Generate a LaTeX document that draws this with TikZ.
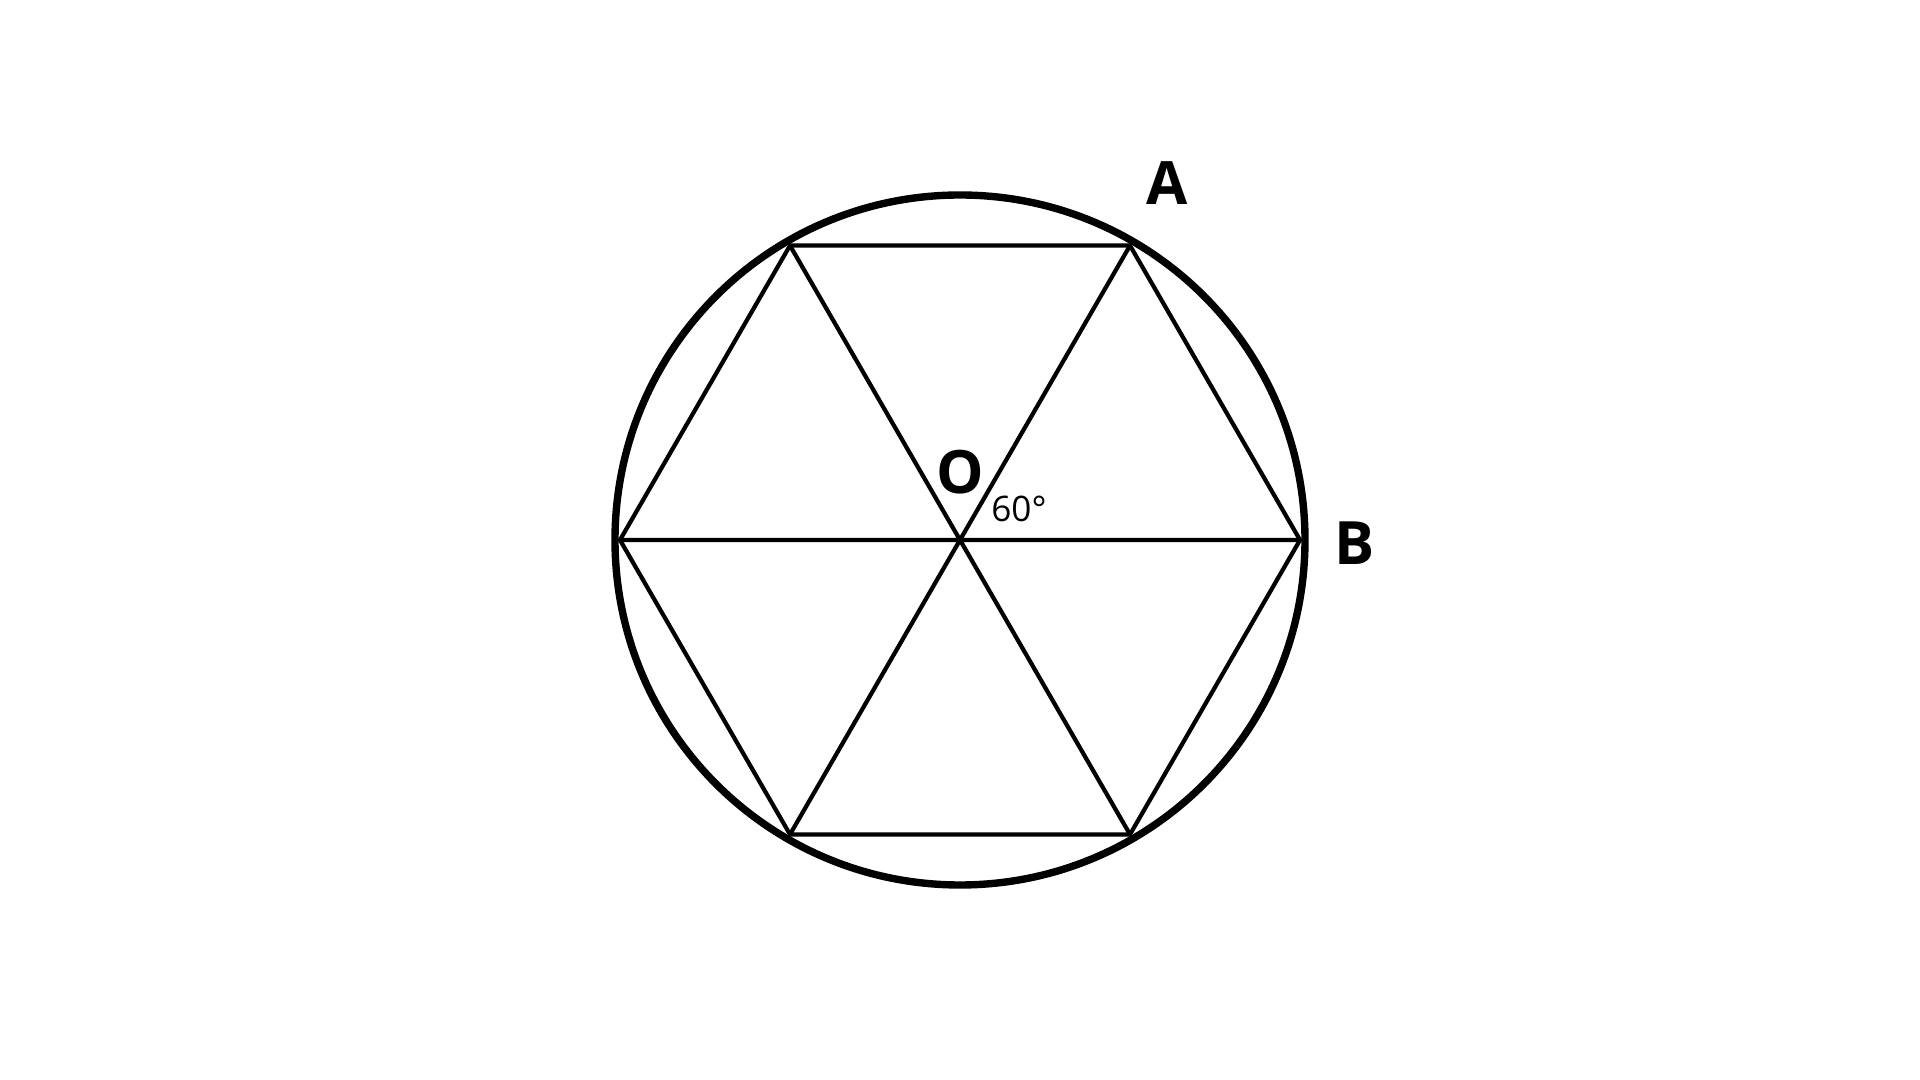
\documentclass[tikz,border=0pt]{standalone}
\usepackage{fontspec}
\setmainfont{Open Sans}
\usetikzlibrary{calc}
\begin{document}
\begin{tikzpicture}[x=0.01cm,y=-0.01cm,
  hexline/.style={line width=1.2pt,line join=miter},
  circline/.style={line width=2.1pt},
  lab/.style={font=\fontsize{17}{20}\selectfont\bfseries,inner sep=0pt},
  anglab/.style={font=\fontsize{10}{12}\selectfont,inner sep=0pt}]
\useasboundingbox (0,0) rectangle (1920,1080);
\coordinate (O) at (960,540);
\foreach \i in {0,...,5} {\coordinate (V\i) at ($(O)+({340*cos(60*\i)},{-340*sin(60*\i)})$);}
\draw[circline] (O) circle[radius=345];
\draw[hexline] (V0)--(V1)--(V2)--(V3)--(V4)--(V5)--cycle;
\draw[hexline] (V0)--(V3) (V1)--(V4) (V2)--(V5);
\node[lab] (LA) at (1167,183) {A};
\node[lab] (LB) at (1355,543) {B};
\node[lab] (LO) at (960,472) {O};
\node[anglab] (ang) at (1019,509) {60°};
\end{tikzpicture}
\end{document}
